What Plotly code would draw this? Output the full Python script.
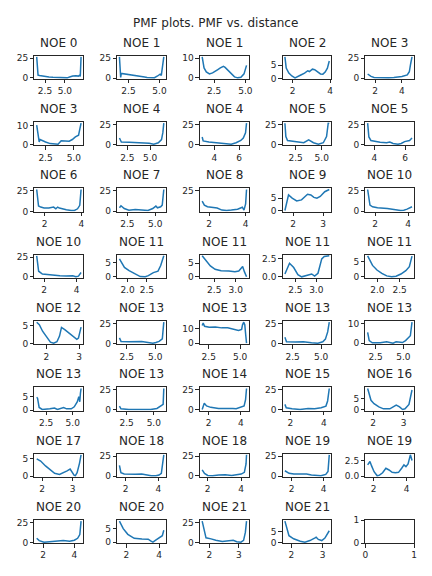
import plotly.graph_objects as go

# ---------------- data ----------------
TITLES = ["NOE 0", "NOE 1", "NOE 1", "NOE 2", "NOE 3",
          "NOE 3", "NOE 4", "NOE 4", "NOE 5", "NOE 5",
          "NOE 6", "NOE 7", "NOE 8", "NOE 9", "NOE 10",
          "NOE 10", "NOE 11", "NOE 11", "NOE 11", "NOE 11",
          "NOE 12", "NOE 13", "NOE 13", "NOE 13", "NOE 13",
          "NOE 13", "NOE 13", "NOE 14", "NOE 15", "NOE 16",
          "NOE 17", "NOE 18", "NOE 18", "NOE 19", "NOE 19",
          "NOE 20", "NOE 20", "NOE 21", "NOE 21", ""]

X_TICKS = [["2.5", "5.0"], ["2.5", "5.0"], ["2.5", "5.0"], ["2", "4"], ["2", "4"],
           ["2.5", "5.0"], ["2.5", "5.0"], ["4", "6"], ["2.5", "5.0"], ["4", "6"],
           ["2", "4"], ["2.5", "5.0"], ["2", "4"], ["2", "3"], ["2", "4"],
           ["2", "4"], ["2.0", "2.5"], ["2.5", "3.0"], ["2.5", "3.0"], ["2.0", "2.5"],
           ["2", "3"], ["2.5", "5.0"], ["2.5", "5.0"], ["2.5", "5.0"], ["2.5", "5.0"],
           ["2.5", "5.0"], ["2.5", "5.0"], ["2", "4"], ["2", "4"], ["2", "3"],
           ["2", "3"], ["2", "4"], ["2", "4"], ["2", "4"], ["2", "4"],
           ["2", "4"], ["2", "4"], ["2", "3"], ["2", "3"], ["0", "1"]]

Y_TICKS = [["0", "25"], ["0", "25"], ["0", "10"], ["0", "5"], ["0", "25"],
           ["0", "10"], ["0", "25"], ["0", "25"], ["0", "25"], ["0", "25"],
           ["0", "25"], ["0", "25"], ["0", "25"], ["0", "5"], ["0", "25"],
           ["0", "25"], ["0", "5"], ["0", "5"], ["0.0", "2.5"], ["0", "5"],
           ["0", "5"], ["0", "25"], ["0", "10"], ["0", "25"], ["0", "10"],
           ["0", "5"], ["0", "25"], ["0", "25"], ["0", "25"], ["0", "5"],
           ["0", "5"], ["0", "25"], ["0", "25"], ["0", "25"], ["0.0", "2.5"],
           ["0", "25"], ["0", "5"], ["0", "25"], ["0", "5"], ["0", "1"]]

x_00 = [1.45, 1.55, 1.62, 1.8, 2.0, 2.5, 3.0, 3.5, 4.0, 4.5, 5.0, 5.3, 5.6, 6.0, 6.4, 6.7, 6.85, 6.95, 7.05]
y_00 = [26.6, 6.5, 3.5, 3.0, 2.6, 1.8, 1.0, 0.6, 0.5, 0.4, 0.7, 0.0, 1.0, 2.4, 2.6, 2.2, 3.2, 1.8, 26.6]
x_01 = [1.77, 1.87, 1.92, 2.0, 2.5, 3.0, 3.5, 3.8, 4.0, 4.3, 4.6, 4.85, 5.05, 5.15, 5.25, 5.35]
y_01 = [26.6, 1.0, 6.0, 5.8, 5.0, 4.0, 3.0, 1.5, 0.8, 0.5, 0.6, 2.8, 5.0, 3.5, 15.0, 26.6]
x_02 = [1.55, 1.70, 1.88, 2.13, 2.38, 2.63, 2.80, 3.0, 3.25, 3.38, 3.63, 3.88, 4.13, 4.38, 4.64, 4.89, 5.04, 5.09]
y_02 = [10.6, 5.0, 3.0, 2.0, 2.5, 3.7, 4.2, 5.0, 5.8, 5.3, 3.7, 1.7, 0.5, 0.0, 0.3, 2.0, 5.0, 6.3]
x_03 = [1.59, 1.66, 1.80, 1.96, 2.13, 2.27, 2.44, 2.64, 2.81, 2.90, 3.06, 3.18, 3.32, 3.49, 3.62, 3.74, 3.86, 3.96]
y_03 = [8.2, 3.9, 2.0, 0.9, 0.2, 0.6, 1.3, 2.0, 2.9, 2.6, 3.5, 3.3, 2.6, 1.7, 1.6, 2.4, 3.9, 6.6]
x_04 = [1.45, 1.6, 1.7, 1.93, 2.4, 3.0, 3.4, 4.0, 4.4, 4.55, 4.65, 4.75]
y_04 = [5.2, 3.2, 2.2, 0.9, 0.4, 0.6, 0.9, 2.0, 4.0, 8.0, 18.0, 26.6]

x_05 = [1.72, 1.94, 2.02, 2.22, 2.5, 2.91, 3.6, 3.88, 4.16, 4.58, 4.86, 5.13, 5.41, 5.55, 5.63]
y_05 = [10.4, 1.4, 2.7, 2.3, 1.4, 0.5, 0.2, 2.0, 2.0, 1.8, 2.7, 4.1, 5.0, 9.5, 11.5]
x_06 = [1.64, 1.75, 1.85, 2.7, 3.5, 4.0, 4.9, 5.4, 5.9, 6.25, 6.4, 6.5]
y_06 = [8.0, 4.0, 3.0, 2.8, 2.5, 2.4, 1.3, 0.3, 2.0, 6.0, 15.0, 26.6]
x_07 = [3.02, 3.1, 3.56, 4.33, 4.85, 5.36, 5.75, 6.13, 6.33, 6.51, 6.59]
y_07 = [9.4, 4.5, 3.0, 2.2, 1.3, 0.4, 2.2, 5.0, 8.0, 14.7, 26.6]
x_08 = [1.48, 1.57, 1.73, 2.5, 3.28, 3.75, 4.21, 4.68, 5.15, 5.46, 5.62, 5.72]
y_08 = [26.6, 10.0, 5.0, 3.6, 2.2, 5.8, 2.2, 0.4, 2.2, 10.0, 26.6, 26.6]
x_09 = [3.56, 3.64, 3.77, 4.37, 4.79, 5.0, 5.21, 5.53, 5.74, 5.96, 6.28, 6.44]
y_09 = [26.6, 9.4, 5.0, 2.7, 2.2, 3.0, 1.3, 0.4, 1.3, 3.6, 5.0, 8.0]

x_10 = [1.57, 1.67, 1.79, 1.97, 2.23, 2.4, 2.49, 2.61, 2.71, 2.8, 2.92, 3.18, 3.44, 3.62, 3.79, 3.91, 3.98]
y_10 = [26.6, 6.7, 5.4, 4.2, 4.2, 5.0, 5.4, 3.3, 5.4, 4.2, 3.3, 2.1, 1.25, 1.25, 3.3, 7.5, 26.6]
x_11 = [1.79, 1.93, 2.22, 2.64, 3.21, 3.78, 4.35, 4.78, 5.06, 5.2, 5.49, 5.63, 5.77]
y_11 = [4.2, 6.7, 3.3, 1.3, 2.1, 1.3, 0.9, 3.3, 6.3, 4.2, 5.4, 7.5, 26.6]
x_12 = [1.62, 1.74, 1.91, 2.17, 2.44, 2.7, 2.96, 3.22, 3.56, 3.82, 3.91, 4.0, 4.05]
y_12 = [13.0, 8.2, 6.3, 5.8, 4.8, 2.4, 1.9, 2.4, 3.4, 5.8, 2.4, 9.6, 26.6]
x_13 = [1.73, 1.85, 1.97, 2.12, 2.28, 2.48, 2.59, 2.69, 2.79, 2.9, 3.05, 3.2]
y_13 = [0.0, 6.3, 5.0, 3.9, 4.3, 6.6, 6.3, 5.3, 5.0, 5.7, 7.6, 8.5]
x_14 = [1.54, 1.68, 1.84, 2.14, 2.74, 3.14, 3.54, 3.74, 3.94, 4.24]
y_14 = [26.6, 7.5, 5.4, 4.2, 3.3, 2.1, 0.8, 1.25, 2.5, 5.4]

x_15 = [1.55, 1.67, 1.9, 2.39, 2.98, 3.37, 3.77, 3.96, 4.12, 4.28]
y_15 = [26.6, 7.1, 3.6, 2.2, 1.3, 0.9, 1.3, 0.0, 0.9, 5.4]
x_16 = [1.79, 1.92, 2.04, 2.21, 2.33, 2.46, 2.54, 2.67, 2.79, 2.86, 2.94]
y_16 = [6.3, 3.3, 2.2, 1.0, 0.1, 0.0, 0.4, 1.5, 2.0, 4.0, 7.4]
x_17 = [2.22, 2.3, 2.41, 2.52, 2.66, 2.84, 2.98, 3.07, 3.12, 3.16, 3.2, 3.25]
y_17 = [7.7, 6.0, 4.0, 2.75, 2.25, 2.1, 1.9, 2.1, 3.1, 3.75, 1.9, 0.0]
x_18 = [2.25, 2.36, 2.46, 2.56, 2.65, 2.77, 2.89, 2.96, 3.04, 3.13, 3.19, 3.31]
y_18 = [0.4, 1.9, 1.3, 0.3, 0.0, 0.15, 0.4, 0.1, 0.5, 2.5, 2.85, 2.93]
x_19 = [1.78, 1.89, 1.99, 2.1, 2.21, 2.32, 2.42, 2.53, 2.64, 2.72, 2.78]
y_19 = [6.8, 3.7, 2.2, 1.1, 0.3, 0.0, 0.2, 0.9, 2.0, 3.3, 6.7]

x_20 = [1.70, 1.78, 1.88, 2.02, 2.12, 2.22, 2.32, 2.4, 2.46, 2.56, 2.71, 2.86, 2.93, 2.98, 3.06]
y_20 = [5.9, 5.2, 3.4, 1.4, 0.36, 0.1, 0.5, 2.05, 4.46, 3.84, 2.68, 1.6, 1.16, 1.5, 4.55]
x_21 = [1.86, 2.0, 2.7, 3.81, 4.37, 4.79, 5.06, 5.34, 5.62, 5.75]
y_21 = [7.0, 2.6, 2.2, 2.6, 1.3, 0.4, 1.3, 2.6, 5.8, 26.6]
x_22 = [1.98, 2.06, 2.17, 2.54, 3.03, 3.53, 4.01, 4.51, 4.87, 5.12, 5.19, 5.29, 5.37, 5.44, 5.51]
y_22 = [12.4, 14.0, 11.8, 11.1, 11.3, 10.7, 10.7, 9.6, 8.9, 9.6, 12.9, 14.7, 12.9, 6.2, 0.0]
x_23 = [1.82, 1.96, 2.73, 3.44, 4.16, 4.72, 5.15, 5.38, 5.58, 5.72]
y_23 = [8.0, 2.7, 2.2, 2.6, 1.3, 0.9, 2.6, 5.8, 14.7, 26.6]
x_24 = [1.79, 1.93, 2.21, 2.93, 3.5, 4.07, 4.35, 4.92, 5.2, 5.49, 5.63, 5.78]
y_24 = [5.5, 1.3, 0.2, 0.2, 0.7, 0.0, 0.7, 0.3, 1.3, 3.3, 3.8, 10.8]

x_25 = [1.61, 1.69, 1.84, 2.13, 2.85, 3.28, 3.56, 3.85, 4.14, 4.42, 4.86, 5.14, 5.43, 5.57, 5.66, 5.72, 5.78]
y_25 = [4.75, 4.4, 1.0, 0.25, 0.5, 0.75, 0.25, 0.6, 1.0, 0.5, 0.5, 1.25, 3.1, 5.0, 3.1, 6.25, 8.0]
x_26 = [1.84, 1.98, 2.7, 3.85, 4.71, 5.29, 5.51, 5.72, 5.86, 5.92]
y_26 = [4.3, 0.9, 0.0, 0.0, 0.0, 1.3, 3.4, 4.3, 6.5, 26.6]
x_27 = [1.61, 1.74, 1.88, 2.14, 2.62, 3.02, 3.31, 3.51, 3.71, 4.0, 4.2, 4.29, 4.35]
y_27 = [0.0, 8.0, 4.5, 2.7, 1.3, 1.3, 2.2, 1.3, 0.9, 2.7, 4.5, 12.5, 26.6]
x_28 = [1.67, 1.75, 2.1, 2.58, 3.06, 3.45, 3.84, 4.13, 4.23, 4.33]
y_28 = [6.5, 2.2, 0.9, 0.0, 1.3, 0.9, 2.2, 4.3, 10.8, 26.6]
x_29 = [1.82, 1.93, 2.03, 2.19, 2.34, 2.55, 2.66, 2.76, 2.87, 2.97, 3.05, 3.18, 3.28]
y_29 = [9.7, 4.25, 2.7, 1.2, 0.3, 0.3, 1.2, 2.0, 1.2, 0.0, 0.3, 2.3, 9.0]

x_30 = [1.82, 1.95, 2.11, 2.26, 2.41, 2.57, 2.72, 2.82, 2.92, 2.97, 3.05, 3.09, 3.15, 3.23, 3.28]
y_30 = [4.9, 4.3, 2.9, 1.8, 0.8, 0.5, 1.0, 1.5, 2.0, 1.3, 0.3, 0.1, 1.0, 3.7, 6.05]
x_31 = [1.62, 1.71, 1.91, 2.2, 2.59, 2.98, 3.27, 3.56, 3.85, 4.04, 4.18, 4.33]
y_31 = [13.6, 4.5, 2.7, 2.3, 2.3, 2.7, 1.4, 0.5, 0.5, 1.4, 3.6, 26.6]
x_32 = [1.67, 1.81, 2.0, 2.29, 2.66, 3.05, 3.43, 3.71, 4.0, 4.19, 4.29, 4.32]
y_32 = [7.5, 3.0, 0.4, 0.0, 0.9, 1.3, 0.4, 1.3, 2.2, 4.4, 15.0, 26.6]
x_33 = [1.58, 1.84, 2.14, 2.54, 2.94, 3.24, 3.54, 3.84, 4.14, 4.28, 4.36]
y_33 = [6.8, 3.6, 2.7, 2.3, 2.7, 1.4, 0.5, 0.5, 2.3, 5.9, 26.6]
x_34 = [1.63, 1.77, 1.87, 2.02, 2.21, 2.35, 2.54, 2.74, 2.93, 3.12, 3.32, 3.51, 3.7, 3.84, 3.96, 4.09, 4.23, 4.33]
y_34 = [1.8, 2.34, 1.63, 0.7, 0.05, 0.16, 0.54, 1.25, 0.98, 0.6, 0.55, 0.6, 1.25, 1.8, 1.52, 1.96, 3.4, 2.5]

x_35 = [1.59, 1.75, 2.06, 2.47, 2.88, 3.29, 3.7, 4.0, 4.21, 4.35, 4.43]
y_35 = [5.6, 2.8, 0.9, 1.4, 2.3, 2.8, 1.9, 3.2, 5.6, 10.2, 26.6]
x_36 = [1.58, 1.81, 2.09, 2.48, 2.95, 3.33, 3.48, 3.62, 3.81, 4.0, 4.19, 4.28]
y_36 = [7.8, 5.0, 2.9, 1.4, 1.2, 1.1, 0.5, 0.0, 0.8, 1.7, 2.4, 4.4]
x_37 = [1.76, 1.89, 2.06, 2.22, 2.44, 2.65, 2.81, 2.93, 3.07, 3.16, 3.22, 3.26]
y_37 = [26.6, 5.8, 4.5, 2.7, 1.3, 2.2, 2.7, 0.9, 0.4, 2.7, 12.5, 26.6]
x_38 = [1.79, 1.92, 2.07, 2.28, 2.43, 2.59, 2.74, 2.79, 2.86, 2.97, 3.07, 3.21]
y_38 = [9.7, 3.2, 1.8, 0.7, 0.3, 1.0, 2.1, 2.5, 1.5, 1.0, 2.1, 5.4]
x_39 = []
y_39 = []

X_DATA = [x_00, x_01, x_02, x_03, x_04, x_05, x_06, x_07, x_08, x_09,
          x_10, x_11, x_12, x_13, x_14, x_15, x_16, x_17, x_18, x_19,
          x_20, x_21, x_22, x_23, x_24, x_25, x_26, x_27, x_28, x_29,
          x_30, x_31, x_32, x_33, x_34, x_35, x_36, x_37, x_38, x_39]
Y_DATA = [y_00, y_01, y_02, y_03, y_04, y_05, y_06, y_07, y_08, y_09,
          y_10, y_11, y_12, y_13, y_14, y_15, y_16, y_17, y_18, y_19,
          y_20, y_21, y_22, y_23, y_24, y_25, y_26, y_27, y_28, y_29,
          y_30, y_31, y_32, y_33, y_34, y_35, y_36, y_37, y_38, y_39]

SUPTITLE = "PMF plots. PMF vs. distance"

# ---------------- style / layout ----------------
W, H = 432, 576
LINE = "#1f77b4"
INK = "#262626"
FONT = "DejaVu Sans"
COL_LEFT0, COL_PITCH, PANEL_W = 32.0, 84.1, 49.6
ROW_TOP0, ROW_PITCH, PANEL_H = 51.7, 67.5, 23.5


def padded(vals, frac=0.05):
    lo, hi = min(vals), max(vals)
    span = hi - lo
    return [lo - frac * span, hi + frac * span]


fig = go.Figure()
annotations = []

for i in range(40):
    r, c = divmod(i, 5)
    sfx = "" if i == 0 else str(i + 1)
    left = COL_LEFT0 + COL_PITCH * c
    top = ROW_TOP0 + ROW_PITCH * r
    xd = [left / W, (left + PANEL_W) / W]
    yd = [1 - (top + PANEL_H) / H, 1 - top / H]

    xs, ys = X_DATA[i], Y_DATA[i]
    fig.add_trace(go.Scatter(x=xs, y=ys, mode="lines",
                             line=dict(color=LINE, width=1.5),
                             xaxis="x" + sfx, yaxis="y" + sfx,
                             showlegend=False, hoverinfo="skip"))
    if xs:
        xr, yr = padded(xs), padded(ys)
    else:
        xr, yr = [0, 1], [0, 1]

    common = dict(showline=True, linecolor=INK, linewidth=1, mirror=True,
                  ticks="outside", ticklen=3.5, tickwidth=1, tickcolor=INK,
                  showgrid=False, zeroline=False, fixedrange=True,
                  tickfont=dict(family=FONT, size=9, color=INK))
    fig.layout["xaxis" + sfx] = dict(domain=xd, anchor="y" + sfx, range=xr,
                                     tickmode="array",
                                     tickvals=[float(t) for t in X_TICKS[i]],
                                     ticktext=X_TICKS[i], **common)
    fig.layout["yaxis" + sfx] = dict(domain=yd, anchor="x" + sfx, range=yr,
                                     tickmode="array",
                                     tickvals=[float(t) for t in Y_TICKS[i]],
                                     ticktext=Y_TICKS[i], **common)
    if TITLES[i]:
        annotations.append(dict(text=TITLES[i], x=(xd[0] + xd[1]) / 2, y=yd[1],
                                xref="paper", yref="paper", xanchor="center",
                                yanchor="bottom", yshift=4, showarrow=False,
                                font=dict(family=FONT, size=12, color=INK)))

annotations.append(dict(text=SUPTITLE, x=0.5, y=1 - 18 / H, xref="paper", yref="paper",
                        xanchor="center", yanchor="middle", showarrow=False,
                        font=dict(family=FONT, size=12, color=INK)))

fig.update_layout(width=W, height=H, margin=dict(l=0, r=0, t=0, b=0),
                  paper_bgcolor="white", plot_bgcolor="white",
                  annotations=annotations)

fig.write_html("out.html",
               config={"displayModeBar": False},
               post_script="document.body.style.margin='0px';document.body.style.overflow='hidden';")
